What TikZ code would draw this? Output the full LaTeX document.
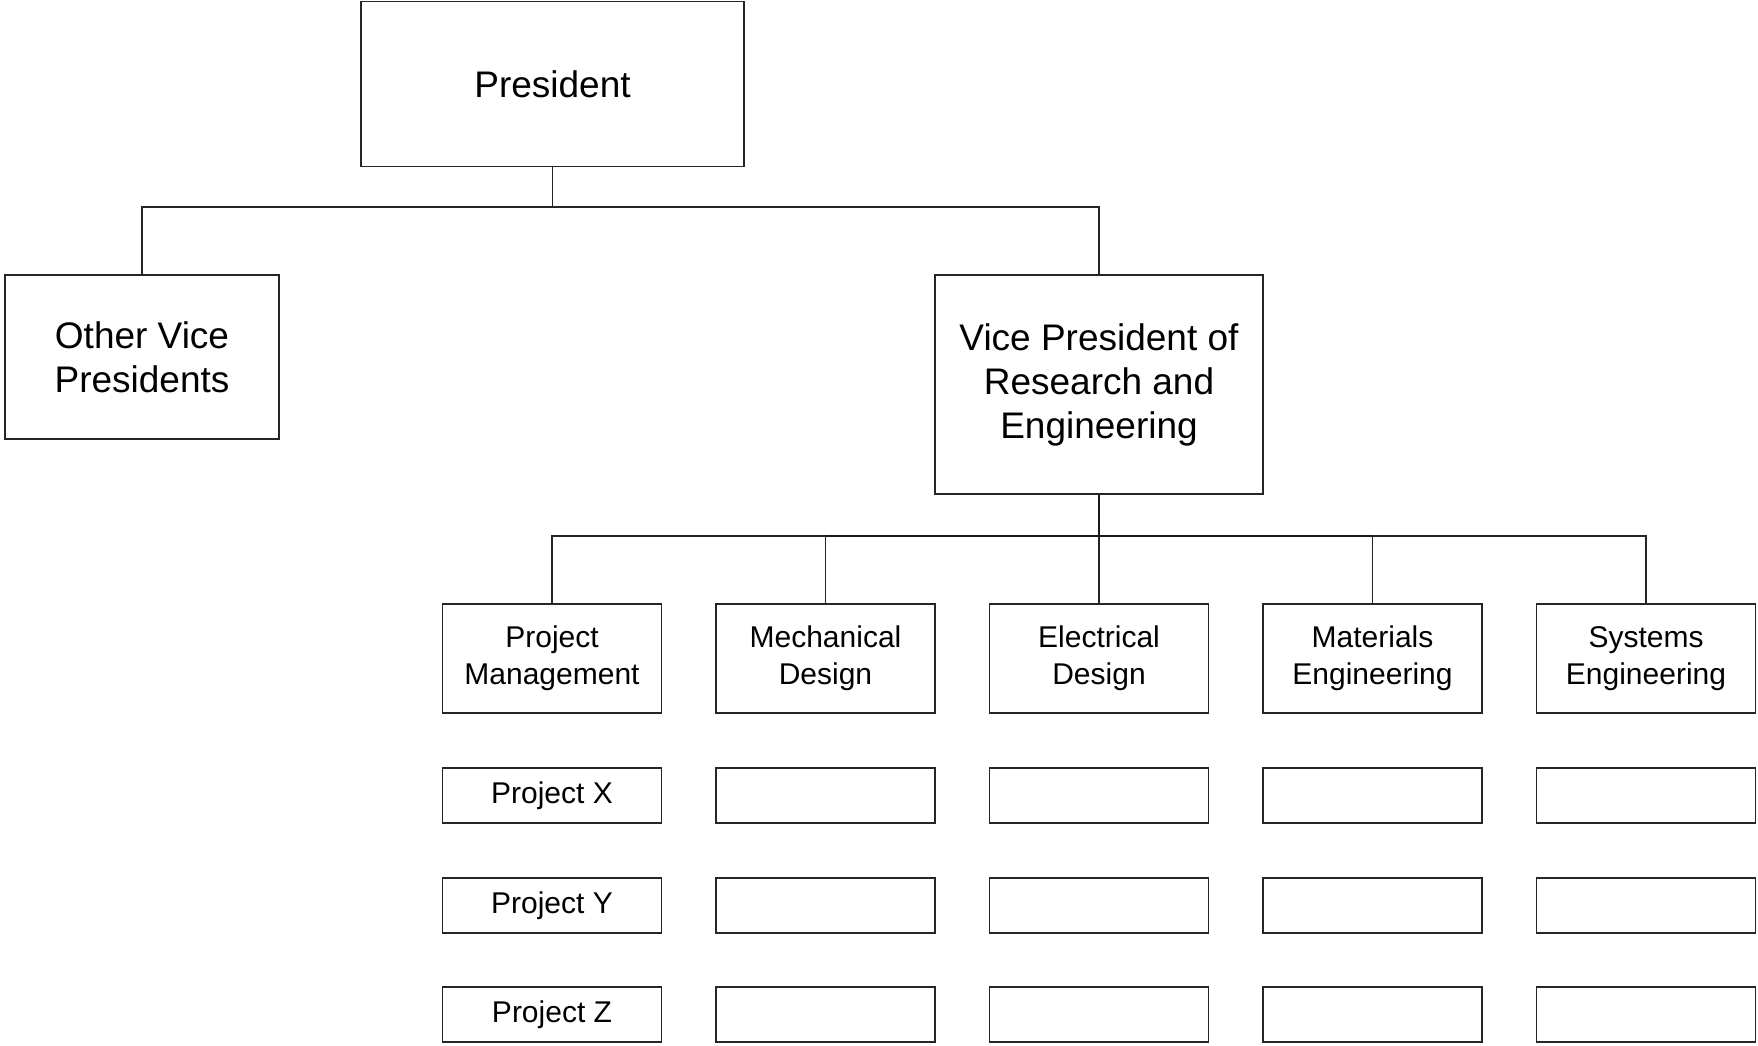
\documentclass[tikz,border=0pt]{standalone}
\usepackage{fontspec}
\setmainfont{Liberation Sans}
\begin{document}
\begin{tikzpicture}[x=1pt,y=-1pt,
  box/.style={draw=black!85,line width=1.1pt,inner sep=0pt,align=center,fill=white},
  bigtext/.style={font=\fontsize{37}{44}\selectfont},
  smalltext/.style={font=\fontsize{30}{37}\selectfont},
  deptbox/.style={box,smalltext,minimum width=219pt,minimum height=109pt},
  projbox/.style={box,smalltext,minimum width=219pt,minimum height=55pt},
  conn/.style={draw=black!85,line width=1.2pt},
  trunk/.style={draw=black!90,line width=2pt}]
\useasboundingbox (0,0) rectangle (1758,1045);
% top levels
\node[box,bigtext,minimum width=383pt,minimum height=165pt] (pres) at (552.5,84) {President};
\node[box,bigtext,minimum width=274pt,minimum height=164pt] (ovp) at (142,357) {Other Vice\\Presidents};
\node[box,bigtext,minimum width=328pt,minimum height=219pt] (vpre) at (1099,384.5) {Vice President of\\Research and\\Engineering};
% departments
\node[deptbox] (d1) at (552,658.5) {Project\\Management};
\node[deptbox] (d2) at (825.5,658.5) {Mechanical\\Design};
\node[deptbox] (d3) at (1099,658.5) {Electrical\\Design};
\node[deptbox] (d4) at (1372.5,658.5) {Materials\\Engineering};
\node[deptbox] (d5) at (1646,658.5) {Systems\\Engineering};
% project rows
\node[projbox] (px1) at (552,795.5) {Project X};
\node[projbox] (py1) at (552,905.5) {Project Y};
\node[projbox] (pz1) at (552,1014.5) {Project Z};
\foreach \i/\xx in {2/825.5,3/1099,4/1372.5,5/1646}{
  \node[projbox] (px\i) at (\xx,795.5) {};
  \node[projbox] (py\i) at (\xx,905.5) {};
  \node[projbox] (pz\i) at (\xx,1014.5) {};
}
% connectors
\coordinate (bus1) at (552.5,207);
\coordinate (bus2) at (1099,536);
\draw[conn] (pres.south) -- (bus1) -| (ovp.north);
\draw[conn] (bus1) -| (vpre.north);
\draw[conn] (bus2) -| (d1.north);
\draw[conn] (bus2) -| (d5.north);
\draw[conn] (bus2) -- (d3.north);
\draw[conn] (d2.north |- bus2) -- (d2.north);
\draw[conn] (d4.north |- bus2) -- (d4.north);
\draw[trunk] (vpre.south) -- (bus2);
\draw[trunk] (d2.north |- bus2) -- (d4.north |- bus2);
\end{tikzpicture}
\end{document}
